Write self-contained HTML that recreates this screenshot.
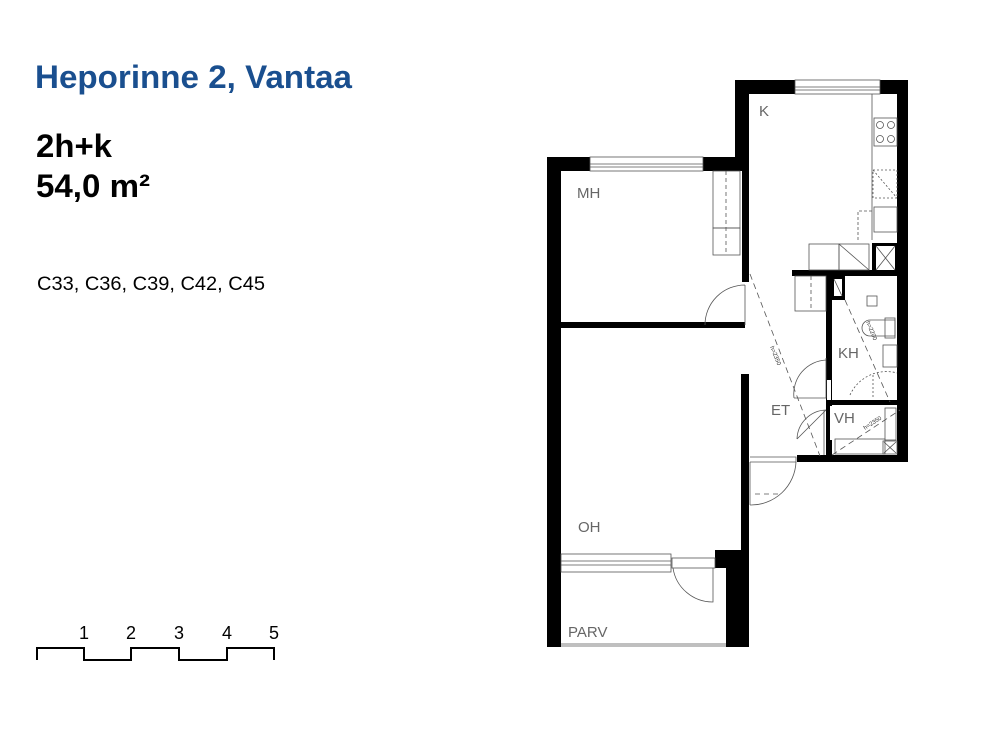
<!DOCTYPE html>
<html><head><meta charset="utf-8"><style>
html,body{margin:0;padding:0;background:#fff;}
svg{display:block}
</style></head><body>
<svg width="1000" height="750" viewBox="0 0 1000 750" xmlns="http://www.w3.org/2000/svg" font-family="Liberation Sans, Arial, sans-serif">
<text x="35" y="88" font-size="32" font-weight="bold" fill="#1a4f8f" textLength="317" lengthAdjust="spacingAndGlyphs">Heporinne 2, Vantaa</text>
<text x="36" y="157" font-size="32" font-weight="bold" fill="#000" textLength="76" lengthAdjust="spacingAndGlyphs">2h+k</text>
<text x="36" y="197" font-size="32" font-weight="bold" fill="#000" textLength="114" lengthAdjust="spacingAndGlyphs">54,0 m²</text>
<text x="37" y="290" font-size="19" fill="#000" textLength="228" lengthAdjust="spacingAndGlyphs">C33, C36, C39, C42, C45</text>
<!-- scale -->
<polyline points="37,660 37,648 84,648 84,660 131,660 131,648 179,648 179,660 227,660 227,648 274,648 274,660" fill="none" stroke="#000" stroke-width="2"/>
<g font-size="18" fill="#000" text-anchor="middle">
<text x="84" y="639">1</text><text x="131" y="639">2</text><text x="179" y="639">3</text><text x="227" y="639">4</text><text x="274" y="639">5</text>
</g>
<!-- walls -->
<g fill="#000">
<rect x="547" y="157" width="14" height="490"/>
<rect x="547" y="157" width="43" height="14"/>
<rect x="703" y="157" width="46" height="14"/>
<rect x="735" y="80" width="14" height="90"/>
<rect x="742" y="157" width="7" height="125"/>
<rect x="735" y="80" width="60" height="14"/>
<rect x="880" y="80" width="28" height="14"/>
<rect x="897" y="80" width="11" height="382"/>
<rect x="561" y="322" width="184" height="6"/>
<rect x="741" y="374" width="8" height="180"/>
<rect x="715" y="550" width="34" height="18"/>
<rect x="726" y="550" width="23" height="97"/>
<rect x="797" y="455" width="111" height="7"/>
<rect x="792" y="270" width="116" height="6"/>
<rect x="826" y="270" width="6" height="190"/>
<rect x="829" y="276" width="16" height="24"/>
<rect x="826" y="400" width="74" height="5"/>
<rect x="872" y="243" width="26" height="30"/>
</g>
<g fill="#fff" stroke="none">
<rect x="834" y="279" width="8" height="17"/>
<rect x="876" y="246" width="19" height="24"/>
<rect x="830" y="406" width="7" height="34"/>
<rect x="827" y="380" width="4" height="20"/>
</g>
<g fill="none" stroke="#555" stroke-width="0.8">
<rect x="590" y="157" width="113" height="14"/><line x1="590" y1="164" x2="703" y2="164"/><line x1="590" y1="167" x2="703" y2="167"/>
<rect x="795" y="80" width="85" height="14"/><line x1="795" y1="87" x2="880" y2="87"/><line x1="795" y1="90" x2="880" y2="90"/>
<rect x="713" y="171" width="27" height="57"/><rect x="713" y="228" width="27" height="27"/>
<line x1="726" y1="171" x2="726" y2="255" stroke-dasharray="4,3"/>
<path d="M745,285 L745,325 M745,285 A40,40 0 0 0 705,325"/>
<line x1="872" y1="94" x2="872" y2="240"/>
<rect x="874" y="118" width="23" height="28"/>
<circle cx="880" cy="125" r="3.5"/><circle cx="891" cy="125" r="3.5"/><circle cx="880" cy="139" r="3.5"/><circle cx="891" cy="139" r="3.5"/>
<rect x="873" y="170" width="24" height="28" stroke-dasharray="2,2"/>
<line x1="873" y1="170" x2="897" y2="198" stroke-dasharray="2,2"/>
<rect x="874" y="207" width="23" height="25"/>
<path d="M858,240 L858,211 L872,211" stroke-dasharray="3,2"/>
<rect x="809" y="244" width="30" height="26"/><rect x="839" y="244" width="30" height="26"/>
<line x1="839" y1="244" x2="869" y2="270"/>
<line x1="876" y1="246" x2="895" y2="270"/><line x1="895" y1="246" x2="876" y2="270"/>
<rect x="795" y="276" width="31" height="35"/>
<line x1="811" y1="276" x2="811" y2="311" stroke-dasharray="4,3"/>
<line x1="834" y1="279" x2="842" y2="296"/>
<line x1="750" y1="274" x2="820" y2="456" stroke-dasharray="6,4"/>
<line x1="845" y1="300" x2="890" y2="402" stroke-dasharray="6,4"/>
<line x1="832" y1="455" x2="900" y2="410" stroke-dasharray="6,4"/>
<rect x="867" y="296" width="10" height="10"/>
<path d="M870,320 A8,8 0 0 0 870,336 L895,336 L895,320 Z"/>
<rect x="885" y="318" width="10" height="20"/>
<rect x="883" y="345" width="14" height="22"/>
<path d="M850,395 A40,40 0 0 1 897,373" stroke-dasharray="2,2"/>
<line x1="873" y1="375" x2="873" y2="398" stroke-dasharray="2,2"/>
<path d="M826,358 L826,398 L794,398 M794,398 A34,34 0 0 1 826,360"/>
<path d="M826,410 L797,439 M797,439 A30,30 0 0 1 826,410"/>
<line x1="824" y1="410" x2="824" y2="455"/>
<rect x="835" y="439" width="50" height="15"/>
<rect x="885" y="408" width="11" height="32"/>
<rect x="883" y="441" width="14" height="13"/>
<line x1="884" y1="442" x2="896" y2="453"/><line x1="896" y1="442" x2="884" y2="453"/>
<path d="M750,457 L796,457 L796,462 L750,462 M750,462 L750,505 M750,505 A45,45 0 0 0 796,462"/>
<line x1="755" y1="494" x2="780" y2="494" stroke-dasharray="5,4"/>
<rect x="561" y="554" width="110" height="18"/><line x1="561" y1="561" x2="671" y2="561"/><line x1="561" y1="565" x2="671" y2="565"/>
<rect x="672" y="558" width="43" height="10"/>
<path d="M673,568 A40,40 0 0 0 713,602 L713,568"/>
<line x1="561" y1="644" x2="726" y2="644"/><line x1="561" y1="646" x2="726" y2="646"/>
</g>
<g font-size="6" fill="#333">
<text x="770" y="347" transform="rotate(68 770 347)">h=2350</text>
<text x="866" y="322" transform="rotate(68 866 322)">h=2200</text>
<text x="865" y="430" transform="rotate(-33 865 430)">h=2350</text>
</g>
<g font-size="15" fill="#666">
<text x="759" y="116">K</text>
<text x="577" y="198">MH</text>
<text x="838" y="358">KH</text>
<text x="771" y="415">ET</text>
<text x="834" y="423">VH</text>
<text x="578" y="532">OH</text>
<text x="568" y="637">PARV</text>
</g>
</svg>
</body></html>
